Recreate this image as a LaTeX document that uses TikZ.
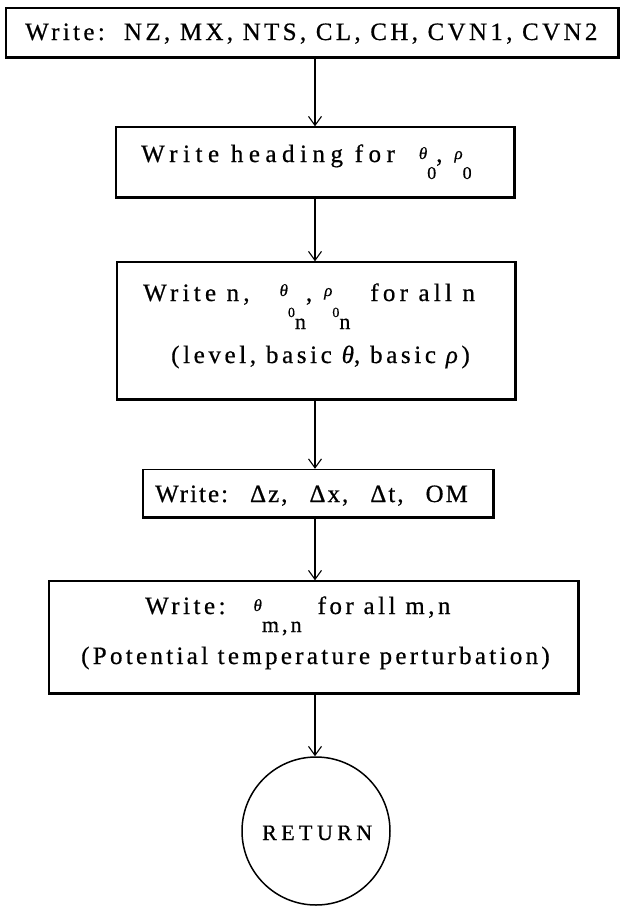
\documentclass[tikz,border=0pt]{standalone}
\usepackage{fontspec}
\setmainfont[FakeBold=0.6]{Liberation Serif}
\usetikzlibrary{arrows.meta}
% raised small Greek letter, lowered subscript
\newcommand\gk[2][5pt]{\raisebox{#1}{\fontsize{17}{17}\selectfont\itshape #2}}
\newcommand\dn[3]{\raisebox{#1}{\fontsize{#2}{#2}\selectfont #3}}
\begin{document}
\begin{tikzpicture}[x=1pt,y=-1pt,
  boxs/.style={draw, line width=1.4pt, inner sep=0pt},
  heavy/.style={line width=2.6pt},
  txt/.style={anchor=base west, inner sep=0pt,
    font=\fontsize{25}{30}\selectfont\addfontfeature{LetterSpace=#1}},
  txt/.default=13.5,
  arr/.style={line width=1.1pt, -{Straight Barb[length=9pt,width=13pt,line width=1.1pt]}}]
\useasboundingbox (0,0) rectangle (621,906);
\coordinate (ax) at (315,0);
% boxes
\node[boxs, minimum width=612pt, minimum height=49pt] (b1) at (312,32.5) {};
\node[boxs, minimum width=398pt, minimum height=70pt] (b2) at (315,162) {};
\node[boxs, minimum width=398pt, minimum height=137pt] (b3) at (316,330.5) {};
\node[boxs, minimum width=350pt, minimum height=47pt] (b4) at (318,493) {};
\node[boxs, minimum width=529pt, minimum height=112pt] (b5) at (313.5,637) {};
\node[draw, circle, line width=1.5pt, minimum size=148pt, inner sep=0pt] (c) at (316,831) {};
% heavier bottom and right edges
\foreach \b in {b1,b2,b3,b4,b5}{\draw[heavy] (\b.south west) -- (\b.south east) -- (\b.north east);}
% texts
\node[txt=13.4] (t1) at (25,40) {Write:\ \ NZ, MX, NTS, CL, CH, CVN1, CVN2};
\node[txt=22] (t2) at (141,162) {Write heading for\hspace{24pt}\gk[3pt]{θ}\dn{-17pt}{18}{0},\hspace{12pt}\gk[3pt]{ρ}\dn{-17pt}{18}{0}};
\node[txt=17] (t3a) at (143,301) {Write n,\hspace{30pt}\gk{θ}\dn{-16pt}{14}{0}\dn{-28pt}{22}{n},\hspace{12pt}\gk{ρ}\dn{-16pt}{14}{0}\dn{-28pt}{22}{n}\hspace{20pt}for all n};
\node[txt=14.5] (t3b) at (171,363) {(level, basic \textit{θ}, basic \textit{ρ})};
\node[txt=8] (t4) at (155,502) {Write:\hspace{22pt}Δz,\hspace{22pt}Δx,\hspace{22pt}Δt,\hspace{22pt}OM};
\node[txt=14] (t5a) at (145,614) {Write:\hspace{28pt}\gk[3pt]{θ}\dn{-18pt}{22}{m,n}\hspace{16pt}for all m,n};
\node[txt=13.2] (t5b) at (81,664) {(Potential temperature perturbation)};
\node[txt=20] (t6) at (262,840) {\fontsize{22}{24}\selectfont RETURN};
% connectors
\draw[arr] (b1.south -| ax) -- (b2.north -| ax);
\draw[arr] (b2.south -| ax) -- (b3.north -| ax);
\draw[arr] (b3.south -| ax) -- (b4.north -| ax);
\draw[arr] (b4.south -| ax) -- (b5.north -| ax);
\draw[arr] (b5.south -| ax) -- (c.north -| ax);
\end{tikzpicture}
\end{document}
